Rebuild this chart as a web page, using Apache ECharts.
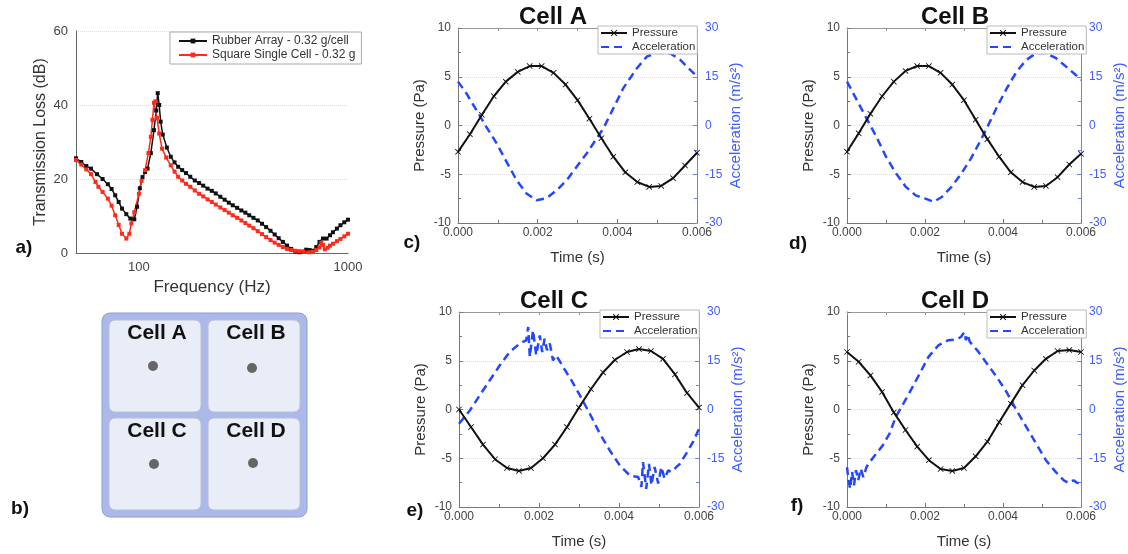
<!DOCTYPE html>
<html>
<head>
<meta charset="utf-8">
<script src="https://cdn.jsdelivr.net/npm/echarts@6.0.0/dist/echarts.min.js"></script>
<style>
  html, body { margin: 0; padding: 0; background: #fff; }
  #main { width: 1128px; height: 554px; }
</style>
</head>
<body>
<div id="main"></div>
<script>
// a) transmission loss (Hz, dB)
const freqRubber = [50, 53, 56, 59, 63, 67, 71, 74, 77, 80, 83, 87, 91, 95, 98, 101, 104, 107, 110, 114, 118, 121, 123, 125, 127, 130, 136, 142, 148, 154, 161, 168, 176, 185, 194, 203, 213, 223, 233, 245, 257, 269, 281, 295, 309, 323, 337, 353, 370, 388, 406, 426, 446, 466, 488, 511, 535, 560, 586, 614, 631, 655, 679, 705, 731, 759, 790, 820, 847, 885, 920, 960, 1000];
const tlRubber = [25.6, 24.6, 23.5, 22.8, 21.3, 20.0, 18.6, 17.3, 15.6, 13.8, 12.0, 10.5, 9.3, 9.1, 12.5, 17.5, 20.5, 21.9, 22.8, 27.0, 33.2, 38.5, 43.2, 40.0, 35.5, 32.0, 28.5, 26.0, 24.5, 23.3, 22.4, 21.6, 20.6, 19.6, 18.9, 18.2, 17.4, 16.8, 16.1, 15.2, 14.4, 13.6, 12.9, 12.2, 11.5, 10.9, 10.2, 9.5, 8.8, 7.9, 7.0, 6.0, 5.0, 4.0, 3.0, 2.0, 1.1, 0.4, 0.2, 0.4, 0.9, 0.8, 0.6, 1.6, 3.0, 3.9, 3.9, 4.8, 5.6, 6.6, 7.5, 8.3, 9.0];
const freqSquare = [50, 53, 56, 59, 62, 64, 67, 71, 74, 77, 80, 83, 87, 90, 92, 95, 100, 103, 107, 111, 114, 116, 118, 120, 122, 125, 129, 135, 142, 148, 154, 161, 168, 176, 185, 194, 203, 213, 223, 233, 245, 257, 269, 281, 295, 309, 323, 337, 353, 370, 388, 406, 426, 446, 466, 488, 511, 535, 560, 586, 614, 650, 679, 705, 730, 745, 759, 775, 800, 820, 847, 885, 920, 960, 1000];
const tlSquare = [25.1, 23.9, 22.6, 21.3, 19.2, 17.9, 16.5, 14.7, 12.8, 10.2, 7.6, 5.2, 3.9, 5.2, 8.0, 11.0, 16.0, 19.5, 22.4, 27.0, 31.4, 36.0, 40.6, 41.0, 36.5, 32.3, 28.2, 25.8, 23.7, 22.0, 20.6, 19.6, 18.7, 17.9, 16.9, 16.0, 15.3, 14.5, 13.8, 13.1, 12.3, 11.6, 10.9, 10.2, 9.5, 8.8, 8.1, 7.4, 6.7, 5.9, 5.1, 4.3, 3.5, 2.8, 2.2, 1.6, 1.1, 0.8, 0.6, 0.5, 0.3, 0.2, 0.3, 0.8, 1.5, 2.8, 2.2, 1.0, 1.4, 2.0, 2.5, 3.2, 3.8, 4.5, 5.2];

// c)-f) pressure at the marked samples (s, Pa)
const timeP = [0, 0.0003, 0.0006, 0.0009, 0.0012, 0.0015, 0.0018, 0.0021, 0.0024, 0.0027, 0.003, 0.0033, 0.0036, 0.0039, 0.0042, 0.0045, 0.0048, 0.0051, 0.0054, 0.0057, 0.006];
const pressA = [-2.7, -0.9, 1.1, 3.0, 4.5, 5.5, 6.1, 6.1, 5.4, 4.2, 2.6, 0.7, -1.3, -3.2, -4.8, -5.8, -6.3, -6.2, -5.4, -4.1, -2.8];
const pressB = [-2.7, -0.8, 1.2, 3.0, 4.5, 5.6, 6.1, 6.1, 5.4, 4.2, 2.6, 0.6, -1.4, -3.2, -4.8, -5.8, -6.3, -6.2, -5.3, -4.0, -2.9];
const pressC = [0.0, -1.8, -3.6, -5.1, -6.0, -6.3, -6.0, -5.0, -3.6, -1.8, 0.2, 2.1, 3.8, 5.1, 5.9, 6.2, 6.0, 5.2, 3.6, 1.7, 0.2];
const pressD = [5.9, 4.9, 3.5, 1.8, -0.3, -2.1, -3.8, -5.2, -6.1, -6.3, -6.0, -4.8, -3.3, -1.3, 0.6, 2.5, 4.0, 5.2, 6.0, 6.1, 5.9];

// acceleration (s, m/s2)
const accTimeA = [0, 0.00021, 0.00046, 0.00071, 0.00097, 0.00122, 0.00147, 0.00172, 0.00197, 0.00222, 0.00248, 0.00273, 0.00298, 0.00323, 0.00348, 0.00365, 0.0039, 0.00415, 0.00449, 0.00474, 0.00499, 0.00533, 0.00558, 0.00583, 0.006];
const accA = [13.5, 9.9, 4.8, -0.4, -5.5, -11.2, -16.8, -20.9, -23.0, -22.4, -19.9, -16.8, -12.7, -8.6, -4.0, -0.9, 5.3, 11.5, 17.6, 21.2, 22.4, 22.2, 20.2, 17.1, 15.1];
const accTimeB = [0, 0.00025, 0.0005, 0.00075, 0.001, 0.00126, 0.00151, 0.00176, 0.00201, 0.00222, 0.00243, 0.00268, 0.00293, 0.00318, 0.00343, 0.0036, 0.00385, 0.0041, 0.00435, 0.0046, 0.00485, 0.0051, 0.00536, 0.00561, 0.00586, 0.006];
const accB = [13.5, 7.9, 2.2, -3.4, -9.6, -14.8, -18.9, -21.5, -22.5, -23.5, -22.0, -18.9, -14.8, -10.1, -4.5, -0.4, 5.8, 11.5, 16.6, 20.2, 22.3, 22.3, 20.7, 18.2, 15.6, 14.0];
const accTimeC = [0, 0.00027, 0.00052, 0.00077, 0.00102, 0.00127, 0.00152, 0.00168, 0.00173, 0.00177, 0.00185, 0.00193, 0.00202, 0.00208, 0.00214, 0.0022, 0.00227, 0.00235, 0.00243, 0.0026, 0.00281, 0.00302, 0.00327, 0.00352, 0.00377, 0.00402, 0.00427, 0.00448, 0.00456, 0.0046, 0.00468, 0.00475, 0.00481, 0.00489, 0.00498, 0.00506, 0.00514, 0.00523, 0.00531, 0.00552, 0.00568, 0.00585, 0.006];
const accC = [-4.4, -0.3, 4.4, 9.0, 13.6, 17.7, 20.3, 21.3, 25.4, 16.2, 24.4, 16.7, 22.8, 17.7, 21.8, 18.2, 20.3, 15.1, 16.7, 13.1, 9.0, 4.4, -1.3, -7.4, -12.6, -17.2, -20.3, -20.8, -23.8, -16.2, -24.4, -16.7, -23.3, -17.7, -22.8, -17.7, -21.3, -18.7, -19.2, -16.7, -13.6, -10.0, -5.9];
const accTimeD = [0, 0.00004, 0.00008, 0.00013, 0.00018, 0.00023, 0.00029, 0.00035, 0.00042, 0.0005, 0.00058, 0.00075, 0.00092, 0.00109, 0.00125, 0.00142, 0.00159, 0.00184, 0.00209, 0.00234, 0.00259, 0.0028, 0.00292, 0.00301, 0.00305, 0.00309, 0.00315, 0.00334, 0.00359, 0.00384, 0.00409, 0.00435, 0.0046, 0.00485, 0.0051, 0.00535, 0.00556, 0.00568, 0.00581, 0.00589, 0.006];
const accD = [-17.7, -21.8, -24.4, -19.2, -23.3, -18.7, -21.8, -18.2, -20.8, -17.7, -16.2, -13.6, -11.0, -7.4, -2.3, 1.3, 4.9, 10.5, 16.2, 19.7, 21.3, 21.5, 22.3, 23.8, 21.3, 23.1, 20.8, 18.2, 14.1, 10.0, 5.4, -0.3, -5.4, -10.5, -15.6, -19.2, -21.8, -22.6, -21.8, -22.5, -22.8];

const FONT = 'Liberation Sans, Arial, sans-serif';
const BLUE = '#2347ff';
const AXIS_BLUE = '#6a80ff';
const LABEL_BLUE = '#3f5dff';
const GREY = '#666';
const XMARK = 'path://M0,1L1,0L5,4L9,0L10,1L6,5L10,9L9,10L5,6L1,10L0,9L4,5Z';

function pairs(xs, ys) {
  return xs.map((x, i) => [x, ys[i]]);
}

const cells = [
  { title: 'Cell A', tag: 'c)', grid: { left: 458, top: 28, width: 239, height: 195 }, legend: { left: 598, top: 26 }, press: pressA, accT: accTimeA, acc: accA, tagPos: [412, 243], titlePos: [553, 17] },
  { title: 'Cell B', tag: 'd)', grid: { left: 847, top: 28, width: 239, height: 195 }, legend: { left: 987, top: 26 }, press: pressB, accT: accTimeB, acc: accB, tagPos: [798, 244], titlePos: [955, 17] },
  { title: 'Cell C', tag: 'e)', grid: { left: 459, top: 312, width: 240, height: 195 }, legend: { left: 600, top: 310 }, press: pressC, accT: accTimeC, acc: accC, tagPos: [415, 511], titlePos: [554, 301] },
  { title: 'Cell D', tag: 'f)', grid: { left: 847, top: 312, width: 239, height: 195 }, legend: { left: 987, top: 310 }, press: pressD, accT: accTimeD, acc: accD, tagPos: [797, 506], titlePos: [955, 301] }
];

const grids = [{ left: 76, top: 31, width: 272, height: 222 }];
const xAxes = [{
  type: 'log', logBase: 10, min: 50, max: 1000, gridIndex: 0,
  name: 'Frequency (Hz)', nameLocation: 'middle', nameGap: 26,
  nameTextStyle: { fontSize: 17, color: '#333', fontFamily: FONT },
  axisLine: { show: true, onZero: false, lineStyle: { color: GREY } },
  axisTick: { show: false },
  splitLine: { show: false },
  axisLabel: {
    margin: 8, fontSize: 13, color: '#444', fontFamily: FONT,
    formatter: v => (Math.abs(v - 100) < 0.5 || Math.abs(v - 1000) < 0.5) ? String(Math.round(v)) : ''
  }
}];
const yAxes = [{
  type: 'value', min: 0, max: 60, interval: 20, gridIndex: 0,
  name: 'Transmission Loss (dB)', nameLocation: 'middle', nameGap: 27, nameRotate: 90,
  nameTextStyle: { fontSize: 16, color: '#333', fontFamily: FONT },
  axisLine: { show: true, onZero: false, lineStyle: { color: GREY } },
  axisTick: { show: false },
  splitLine: { show: true, lineStyle: { color: '#ddd', type: 'dotted' } },
  axisLabel: { fontSize: 13, color: '#444', fontFamily: FONT }
}];
const series = [
  {
    type: 'line', name: 'Rubber Array - 0.32 g/cell', xAxisIndex: 0, yAxisIndex: 0,
    data: pairs(freqRubber, tlRubber), symbol: 'rect', symbolSize: 4,
    lineStyle: { color: '#111', width: 1.5 }, itemStyle: { color: '#111' }
  },
  {
    type: 'line', name: 'Square Single Cell - 0.32 g', xAxisIndex: 0, yAxisIndex: 0,
    data: pairs(freqSquare, tlSquare), symbol: 'rect', symbolSize: 4,
    lineStyle: { color: '#ff2a1a', width: 1.5 }, itemStyle: { color: '#ff2a1a' }
  }
];
const legends = [{
  left: 170, top: 32, orient: 'vertical', itemGap: 2, itemWidth: 28, itemHeight: 6,
  padding: [3, 6, 3, 8], borderColor: '#aaa', borderWidth: 1, backgroundColor: '#fff',
  textStyle: { fontSize: 12, color: '#333', fontFamily: FONT },
  data: ['Rubber Array - 0.32 g/cell', 'Square Single Cell - 0.32 g']
}];
const graphics = [];

function txt(x, y, text, size, bold, color) {
  return {
    type: 'text', x: x, y: y, z: 100,
    style: {
      text: text, fill: color || '#111',
      font: (bold ? 'bold ' : '') + size + 'px ' + FONT,
      align: 'center', verticalAlign: 'middle', textAlign: 'center', textVerticalAlign: 'middle'
    }
  };
}

cells.forEach((c, k) => {
  const gi = k + 1;
  grids.push(c.grid);
  const xb = xAxes.length;
  xAxes.push({
    type: 'value', gridIndex: gi, position: 'bottom', min: 0, max: 0.006, interval: 0.002,
    name: 'Time (s)', nameLocation: 'middle', nameGap: 27,
    nameTextStyle: { fontSize: 15, color: '#333', fontFamily: FONT },
    axisLine: { show: true, onZero: false, lineStyle: { color: '#777' } },
    axisTick: { show: true, inside: true, length: 4, lineStyle: { color: '#777' } },
    minorTick: { show: true, splitNumber: 2, length: 3, lineStyle: { color: '#777' } },
    splitLine: { show: false },
    axisLabel: { fontSize: 12, color: '#444', margin: 4, fontFamily: FONT, formatter: v => v.toFixed(3) }
  });
  // top frame of the plot
  xAxes.push({
    type: 'value', gridIndex: gi, position: 'top', min: 0, max: 0.006, interval: 0.002,
    axisLine: { show: true, onZero: false, lineStyle: { color: '#999' } },
    axisTick: { show: true, inside: true, length: 3, lineStyle: { color: '#999' } },
    minorTick: { show: true, splitNumber: 2, length: 3, lineStyle: { color: '#999' } },
    axisLabel: { show: false }, splitLine: { show: false }
  });
  const yl = yAxes.length;
  yAxes.push({
    type: 'value', gridIndex: gi, position: 'left', min: -10, max: 10, interval: 5,
    name: 'Pressure (Pa)', nameLocation: 'middle', nameGap: 31, nameRotate: 90,
    nameTextStyle: { fontSize: 15, color: '#333', fontFamily: FONT },
    axisLine: { show: true, onZero: false, lineStyle: { color: '#777' } },
    axisTick: { show: true, inside: true, length: 4, lineStyle: { color: '#777' } },
    minorTick: { show: true, splitNumber: 2, length: 3, lineStyle: { color: '#777' } },
    splitLine: { show: true, lineStyle: { color: '#ddd', type: 'dotted' } },
    axisLabel: { fontSize: 12, color: '#444', margin: 7, fontFamily: FONT }
  });
  yAxes.push({
    type: 'value', gridIndex: gi, position: 'right', min: -30, max: 30, interval: 15,
    name: 'Acceleration (m/s²)', nameLocation: 'middle', nameGap: 31, nameRotate: 90,
    nameTextStyle: { fontSize: 15, color: LABEL_BLUE, fontFamily: FONT },
    axisLine: { show: true, onZero: false, lineStyle: { color: AXIS_BLUE } },
    axisTick: { show: true, inside: true, length: 4, lineStyle: { color: AXIS_BLUE } },
    minorTick: { show: true, splitNumber: 2, length: 3, lineStyle: { color: AXIS_BLUE } },
    splitLine: { show: false },
    axisLabel: { fontSize: 12, color: LABEL_BLUE, margin: 8, fontFamily: FONT }
  });
  series.push({
    type: 'line', name: 'Pressure', xAxisIndex: xb, yAxisIndex: yl,
    data: pairs(timeP, c.press), symbol: XMARK, symbolSize: 6, z: 3,
    lineStyle: { color: '#111', width: 2 }, itemStyle: { color: '#111' }
  });
  series.push({
    type: 'line', name: 'Acceleration', xAxisIndex: xb, yAxisIndex: yl + 1,
    data: pairs(c.accT, c.acc), symbol: 'none', z: 2,
    lineStyle: { color: BLUE, width: 2.5, type: [8, 5] }, itemStyle: { color: BLUE }
  });
  legends.push({
    left: c.legend.left, top: c.legend.top, orient: 'vertical', itemGap: 2, itemWidth: 26, itemHeight: 8,
    padding: [1, 2, 1, 2], borderColor: '#bbb', borderWidth: 1, backgroundColor: '#fff',
    textStyle: { fontSize: 11.5, color: '#333', fontFamily: FONT },
    data: ['Pressure', { name: 'Acceleration', itemStyle: { color: 'rgba(0,0,0,0)', borderColor: 'rgba(0,0,0,0)' } }]
  });
  graphics.push(txt(c.titlePos[0], c.titlePos[1], c.title, 24, true));
  graphics.push(txt(c.tagPos[0], c.tagPos[1], c.tag, 19, true));
});

// b) sketch of the 2x2 array with sensor points
graphics.push({
  type: 'rect', shape: { x: 102, y: 313, width: 205, height: 204, r: 8 },
  style: { fill: '#aab9e9', stroke: '#8e9dd2', lineWidth: 1 }
});
[[109, 320, 'Cell A', 153, 366], [208, 320, 'Cell B', 252, 368], [109, 418, 'Cell C', 154, 464], [208, 418, 'Cell D', 253, 463]].forEach(p => {
  graphics.push({
    type: 'rect', shape: { x: p[0], y: p[1], width: 92, height: 92, r: 6 },
    style: { fill: '#e9edf7', stroke: '#b9c0d6', lineWidth: 1 }
  });
  graphics.push(txt(p[0] + 48, p[1] + 13, p[2], 21, true));
  graphics.push({ type: 'circle', shape: { cx: p[3], cy: p[4], r: 5 }, style: { fill: '#666' } });
});
graphics.push(txt(24, 248, 'a)', 19, true));
graphics.push(txt(20, 509, 'b)', 19, true));

const chart = echarts.init(document.getElementById('main'));
chart.setOption({
  animation: false,
  textStyle: { fontFamily: FONT },
  grid: grids,
  xAxis: xAxes,
  yAxis: yAxes,
  legend: legends,
  series: series,
  graphic: graphics
});
</script>
</body>
</html>
